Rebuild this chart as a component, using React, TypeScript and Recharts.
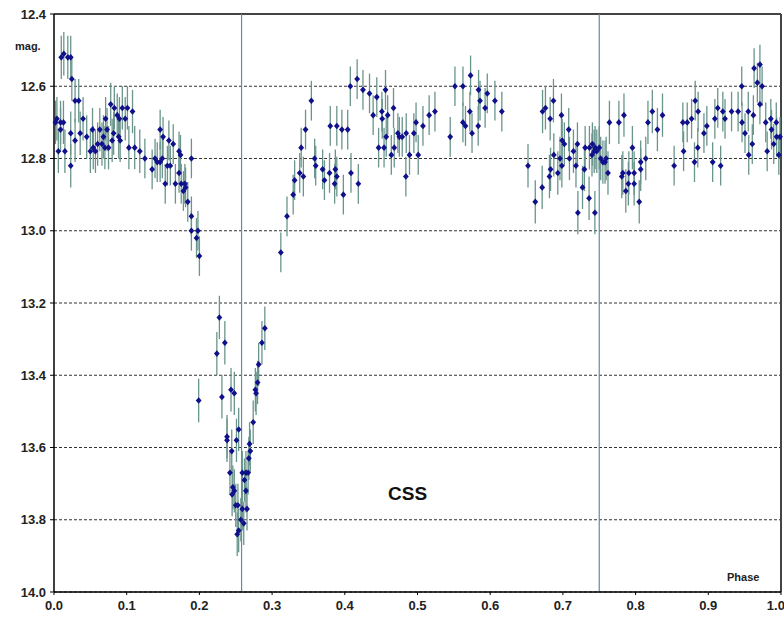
import React from "react"
import {
  ScatterChart,
  Scatter,
  XAxis,
  YAxis,
  CartesianGrid,
  ReferenceLine,
  ErrorBar,
} from "recharts"

// [phase, mag], grouped by phase range
const maxI = [
  [0.002, 12.7], [0.004, 12.69], [0.006, 12.78], [0.009, 12.7], [0.009, 12.72], [0.01, 12.52],
  [0.0135, 12.51], [0.013, 12.7], [0.015, 12.78], [0.019, 12.52], [0.023, 12.52], [0.023, 12.73],
  [0.023, 12.82], [0.0245, 12.58], [0.029, 12.64], [0.029, 12.75], [0.034, 12.64], [0.036, 12.73],
  [0.04, 12.69], [0.045, 12.74], [0.05, 12.78], [0.053, 12.72], [0.054, 12.77], [0.057, 12.78],
  [0.06, 12.76], [0.063, 12.72], [0.066, 12.76], [0.068, 12.74], [0.07, 12.77], [0.071, 12.69],
  [0.073, 12.72], [0.075, 12.77], [0.078, 12.65], [0.08, 12.75], [0.082, 12.73], [0.083, 12.66],
  [0.087, 12.68], [0.089, 12.74], [0.09, 12.69], [0.091, 12.75], [0.094, 12.66], [0.098, 12.69],
  [0.101, 12.66], [0.103, 12.77], [0.108, 12.67], [0.111, 12.77], [0.118, 12.78],
]

const descent = [
  [0.125, 12.8], [0.135, 12.83], [0.139, 12.8], [0.142, 12.81], [0.146, 12.72], [0.146, 12.81],
  [0.149, 12.8], [0.15, 12.74], [0.153, 12.87], [0.156, 12.82], [0.158, 12.75], [0.16, 12.82],
  [0.164, 12.76], [0.167, 12.87], [0.172, 12.78], [0.172, 12.84], [0.174, 12.79], [0.175, 12.87],
  [0.178, 12.89], [0.18, 12.87], [0.181, 12.88], [0.184, 12.92], [0.189, 12.8], [0.189, 12.96],
  [0.189, 13.0], [0.196, 13.02], [0.198, 13.0], [0.2, 13.07],
]

const minimum = [
  [0.199, 13.47], [0.2275, 13.24], [0.224, 13.34], [0.235, 13.31], [0.231, 13.46], [0.2435, 13.44],
  [0.248, 13.45], [0.254, 13.55], [0.238, 13.57], [0.238, 13.58], [0.2445, 13.61], [0.242, 13.67],
  [0.246, 13.71], [0.245, 13.73], [0.248, 13.72], [0.25, 13.76], [0.253, 13.76], [0.251, 13.58],
  [0.252, 13.84], [0.254, 13.83], [0.257, 13.8], [0.259, 13.67], [0.259, 13.77], [0.261, 13.81],
  [0.262, 13.69], [0.264, 13.72], [0.2655, 13.77], [0.264, 13.67], [0.267, 13.67], [0.268, 13.63],
  [0.27, 13.61], [0.269, 13.59], [0.274, 13.53], [0.277, 13.44], [0.278, 13.45], [0.28, 13.42],
  [0.2815, 13.37], [0.286, 13.31], [0.29, 13.27],
]

const rise = [
  [0.312, 13.06], [0.3205, 12.96], [0.329, 12.9], [0.331, 12.86], [0.338, 12.84], [0.34, 12.77],
  [0.343, 12.85], [0.346, 12.72], [0.354, 12.64], [0.3585, 12.8], [0.36, 12.82], [0.3695, 12.83],
  [0.372, 12.86], [0.38, 12.71], [0.379, 12.84], [0.387, 12.83], [0.389, 12.71], [0.386, 12.87],
  [0.389, 12.85], [0.396, 12.72], [0.398, 12.9], [0.404, 12.72], [0.4076, 12.6], [0.4085, 12.84],
  [0.417, 12.58], [0.4186, 12.87], [0.425, 12.61], [0.434, 12.62], [0.439, 12.68], [0.444, 12.63],
  [0.4465, 12.77],
]

const plateau = [
  [0.451, 12.67], [0.4515, 12.69], [0.454, 12.77], [0.456, 12.61], [0.457, 12.74], [0.459, 12.68],
  [0.464, 12.79], [0.467, 12.66], [0.468, 12.77], [0.473, 12.73], [0.475, 12.74], [0.479, 12.74],
  [0.484, 12.85], [0.4845, 12.73], [0.489, 12.79], [0.495, 12.73], [0.498, 12.7], [0.501, 12.79],
  [0.5075, 12.71], [0.516, 12.68], [0.524, 12.67], [0.545, 12.74], [0.5515, 12.6], [0.5625, 12.6],
  [0.5625, 12.7], [0.566, 12.71], [0.572, 12.67], [0.573, 12.57], [0.575, 12.73], [0.5835, 12.71],
  [0.584, 12.61], [0.586, 12.64], [0.593, 12.66], [0.596, 12.62], [0.6065, 12.64], [0.616, 12.67],
]

const secondary = [
  [0.652, 12.82], [0.662, 12.92], [0.6715, 12.88], [0.672, 12.67], [0.676, 12.66], [0.6815, 12.85],
  [0.6825, 12.69], [0.683, 12.83], [0.687, 12.64], [0.6875, 12.79], [0.693, 12.84], [0.696, 12.8],
  [0.698, 12.68], [0.6986, 12.82], [0.699, 12.75], [0.702, 12.76], [0.708, 12.72], [0.709, 12.8],
  [0.7145, 12.78], [0.718, 12.82], [0.72, 12.76], [0.7206, 12.95], [0.727, 12.88], [0.7296, 12.83],
  [0.7306, 12.77], [0.736, 12.91], [0.7365, 12.77], [0.74, 12.79], [0.7406, 12.76], [0.743, 12.78],
  [0.744, 12.95], [0.7443, 12.77], [0.7466, 12.78], [0.75, 12.77], [0.752, 12.8], [0.755, 12.81],
  [0.758, 12.81], [0.7595, 12.8], [0.762, 12.84], [0.764, 12.7], [0.777, 12.7], [0.781, 12.85],
  [0.7824, 12.84], [0.784, 12.68], [0.7865, 12.89], [0.79, 12.87], [0.7907, 12.84], [0.7956, 12.77],
  [0.798, 12.87], [0.798, 12.84], [0.805, 12.92], [0.807, 12.83], [0.807, 12.81], [0.814, 12.8],
  [0.817, 12.7], [0.823, 12.67], [0.83, 12.72], [0.837, 12.68],
]

const maxII = [
  [0.853, 12.82], [0.865, 12.7], [0.866, 12.78], [0.871, 12.7], [0.877, 12.69], [0.881, 12.81],
  [0.882, 12.64], [0.8855, 12.77], [0.886, 12.67], [0.894, 12.73], [0.898, 12.71], [0.906, 12.81],
  [0.909, 12.69], [0.913, 12.66], [0.917, 12.82], [0.92, 12.67], [0.923, 12.69], [0.932, 12.67],
  [0.941, 12.67], [0.946, 12.6], [0.9464, 12.7], [0.9505, 12.73], [0.955, 12.67], [0.9556, 12.79],
  [0.9605, 12.76], [0.962, 12.68], [0.963, 12.55], [0.9675, 12.59], [0.971, 12.65], [0.971, 12.54],
  [0.974, 12.6], [0.979, 12.7], [0.981, 12.78], [0.986, 12.69], [0.987, 12.72], [0.99, 12.76],
  [0.9935, 12.7], [0.994, 12.74], [0.997, 12.79], [0.9986, 12.74],
]

// error bar half-length (mag) per group
const groupErrors = [0.06, 0.055, 0.06, 0.055, 0.055, 0.06, 0.055]
const groups = [maxI, descent, minimum, rise, plateau, secondary, maxII]

const phaseTicks = [0, 0.1, 0.2, 0.3, 0.4, 0.5, 0.6, 0.7, 0.8, 0.9, 1.0]
const magTicks = [12.4, 12.6, 12.8, 13.0, 13.2, 13.4, 13.6, 13.8, 14.0]
const markerPhases = [0.258, 0.75]

const data = groups.flatMap((g, i) =>
  g.map(([x, y]) => ({ x, y, err: groupErrors[i] }))
)

const Diamond = (props: any) => {
  const { cx, cy } = props
  if (cx == null || cy == null) return null
  return (
    <polygon
      points={`${cx},${cy - 3.3} ${cx + 2.9},${cy} ${cx},${cy + 3.3} ${cx - 2.9},${cy}`}
      fill="#10108a"
    />
  )
}

const labelFont = "'Liberation Sans', Arial, sans-serif"

export default function App() {
  return (
    <div
      style={{
        position: "absolute",
        left: 0,
        top: 0,
        width: 784,
        height: 617,
        background: "#fff",
        fontFamily: labelFont,
      }}
    >
      <ScatterChart
        width={784}
        height={617}
        margin={{ top: 14, right: 3, bottom: 0, left: 0 }}
      >
        <CartesianGrid
          vertical={false}
          stroke="#333"
          strokeWidth={1}
          strokeDasharray="3 2"
        />
        <XAxis
          type="number"
          dataKey="x"
          domain={[0, 1]}
          ticks={phaseTicks}
          tickFormatter={(v: number) => v.toFixed(1)}
          height={25}
          axisLine={{ stroke: "#000", strokeWidth: 1.5 }}
          tickLine={{ stroke: "#000" }}
          tickSize={3}
          tickMargin={6}
          tick={{ fill: "#222", fontSize: 13, fontWeight: "bold", fontFamily: labelFont }}
        />
        <YAxis
          type="number"
          dataKey="y"
          domain={[12.4, 14.0]}
          reversed
          ticks={magTicks}
          tickFormatter={(v: number) => v.toFixed(1)}
          width={54}
          axisLine={{ stroke: "#000", strokeWidth: 1.5 }}
          tickLine={{ stroke: "#000" }}
          tickSize={4}
          tickMargin={4}
          tick={{ fill: "#222", fontSize: 13, fontWeight: "bold", fontFamily: labelFont }}
        />
        <ReferenceLine y={12.4} stroke="#444" strokeWidth={2} />
        <ReferenceLine x={1} stroke="#444" strokeWidth={2} />
        {markerPhases.map((p) => (
          <ReferenceLine key={p} x={p} stroke="#5a8fa6" strokeWidth={1.2} />
        ))}
        <Scatter data={data} shape={<Diamond />} isAnimationActive={false}>
          <ErrorBar
            dataKey="err"
            direction="y"
            width={0}
            stroke="#6a958c"
            strokeWidth={1.3}
          />
        </Scatter>
      </ScatterChart>
      <div
        style={{
          position: "absolute",
          left: 15,
          top: 40,
          fontSize: 11,
          fontWeight: "bold",
          color: "#222",
        }}
      >
        mag.
      </div>
      <div
        style={{
          position: "absolute",
          left: 727,
          top: 571,
          fontSize: 11,
          fontWeight: "bold",
          color: "#222",
        }}
      >
        Phase
      </div>
      <div
        style={{
          position: "absolute",
          left: 388,
          top: 483,
          fontSize: 19,
          fontWeight: "bold",
          color: "#111",
        }}
      >
        CSS
      </div>
    </div>
  )
}
